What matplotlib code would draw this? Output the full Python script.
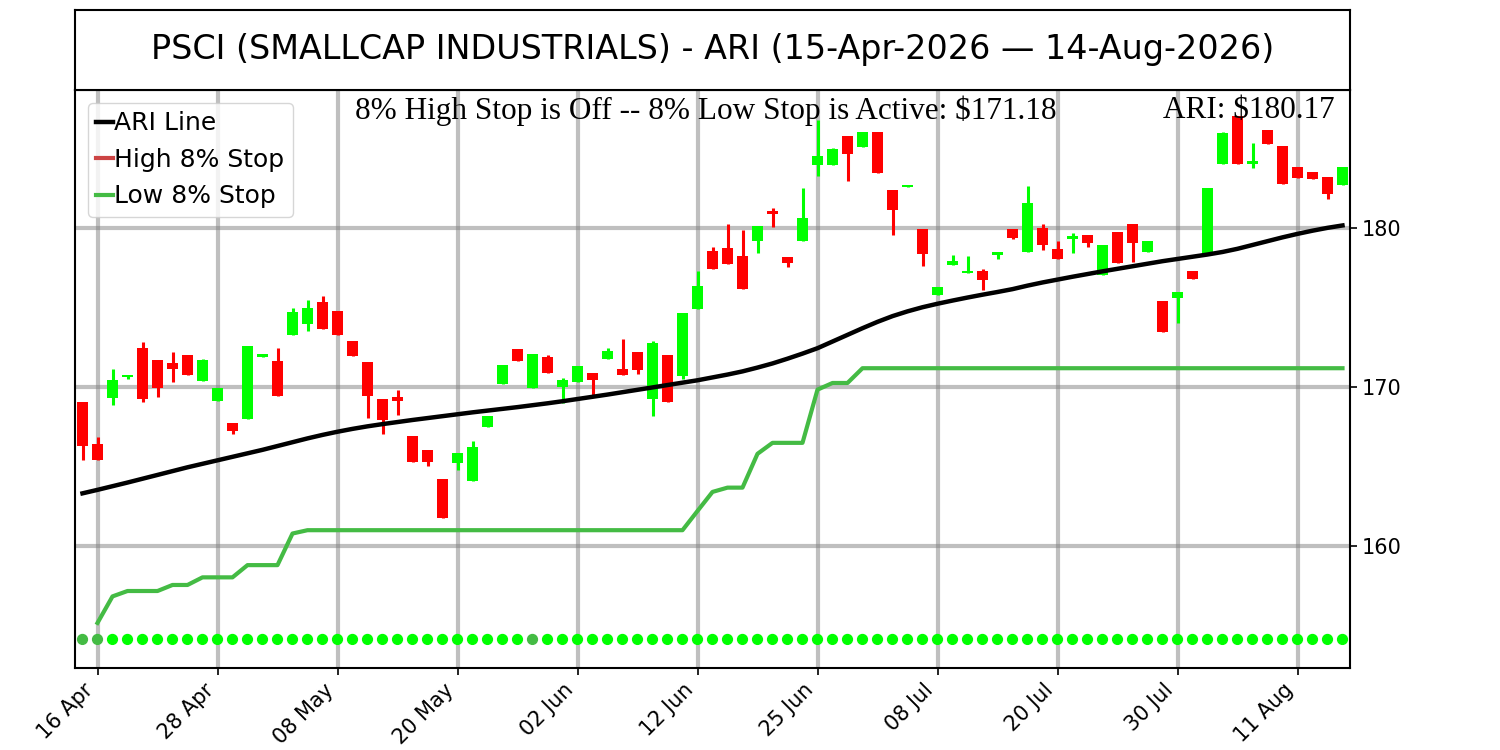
#!/usr/bin/env python3
"""PSCI candlestick chart with ARI line and 8% trailing stops."""

from __future__ import annotations

import matplotlib

matplotlib.use("Agg")
import matplotlib.pyplot as plt
import numpy as np


TITLE = "PSCI (SMALLCAP INDUSTRIALS) - ARI (15-Apr-2026 \u2014 14-Aug-2026)"
STOP_TEXT = r"8% High Stop is Off -- 8% Low Stop is Active: \$171.18"
ARI_TEXT = r"ARI: \$180.17"

TICK_LABELS = ["16 Apr", "28 Apr", "08 May", "20 May", "02 Jun", "12 Jun",
               "25 Jun", "08 Jul", "20 Jul", "30 Jul", "11 Aug"]
TICK_INDEX = [1, 9, 17, 25, 33, 41, 49, 57, 65, 73, 81]

OPEN = [
    169.06, 166.38, 169.29, 170.63, 172.47, 171.69, 171.50, 172.01, 170.35, 169.10,
    167.74, 167.97, 171.86, 171.65, 173.30, 173.99, 175.35, 174.79, 172.91, 171.59,
    169.27, 169.35, 166.94, 166.06, 164.18, 165.21, 164.08, 167.49, 170.17, 172.38,
    169.91, 171.90, 169.98, 170.31, 170.88, 171.78, 171.13, 172.22, 169.25, 172.01,
    170.67, 174.94, 178.56, 178.72, 178.24, 179.16, 181.07, 178.16, 179.16, 183.98,
    184.00, 185.78, 185.11, 186.07, 182.43, 182.61, 179.92, 175.81, 177.70, 177.16,
    177.28, 178.28, 179.92, 178.51, 180.04, 178.66, 179.29, 179.60, 177.05, 179.73,
    180.29, 178.51, 175.42, 175.59, 177.28, 178.45, 184.06, 187.07, 184.06, 186.19,
    185.19, 183.87, 183.52, 183.24, 182.72,
]
HIGH = [
    169.06, 166.82, 171.15, 170.77, 172.84, 171.69, 172.22, 172.01, 171.76, 169.94,
    167.74, 172.59, 172.07, 172.47, 174.98, 175.48, 175.73, 174.79, 172.91, 171.59,
    169.27, 169.83, 166.94, 166.06, 164.18, 165.81, 166.57, 168.14, 171.40, 172.38,
    172.09, 172.03, 170.56, 171.32, 170.88, 172.47, 173.03, 172.22, 172.91, 172.01,
    174.64, 177.30, 178.81, 180.25, 179.87, 180.15, 181.26, 178.16, 182.51, 186.82,
    185.05, 185.78, 186.07, 186.07, 182.43, 182.74, 179.92, 176.28, 178.30, 178.24,
    177.43, 178.47, 179.92, 182.64, 180.25, 179.19, 179.67, 179.60, 178.97, 179.73,
    180.29, 179.16, 175.42, 175.96, 177.28, 182.55, 186.04, 187.07, 185.38, 186.19,
    185.19, 183.87, 183.52, 183.24, 183.87,
]
LOW = [
    165.39, 165.39, 168.89, 170.50, 169.04, 169.35, 170.29, 170.73, 170.35, 169.10,
    167.01, 167.97, 171.86, 169.41, 173.30, 173.53, 173.68, 173.30, 171.92, 168.03,
    167.03, 168.22, 165.27, 165.02, 161.75, 164.77, 164.08, 167.49, 170.17, 171.63,
    169.91, 170.86, 168.97, 170.31, 169.41, 171.78, 170.73, 170.84, 168.16, 169.04,
    170.52, 174.94, 177.45, 177.76, 176.15, 178.45, 180.08, 177.57, 179.16, 183.29,
    184.00, 182.97, 185.11, 183.50, 179.56, 182.61, 177.64, 175.81, 177.66, 177.16,
    176.11, 178.03, 179.33, 178.51, 178.64, 178.03, 178.45, 178.79, 177.05, 177.82,
    177.89, 178.51, 173.45, 174.01, 176.78, 178.45, 184.06, 184.06, 183.81, 185.31,
    182.80, 183.18, 183.10, 181.84, 182.72,
]
CLOSE = [
    166.27, 165.39, 170.46, 170.77, 169.25, 169.92, 171.13, 170.73, 171.71, 169.94,
    167.22, 172.59, 172.07, 169.41, 174.71, 174.98, 173.68, 173.30, 171.92, 169.41,
    167.95, 169.12, 165.27, 165.27, 161.75, 165.81, 166.19, 168.14, 171.40, 171.63,
    172.09, 170.86, 170.46, 171.32, 170.42, 172.28, 170.77, 171.05, 172.78, 169.04,
    174.64, 176.36, 177.45, 177.76, 176.15, 180.15, 180.86, 177.78, 180.67, 184.56,
    185.00, 184.69, 186.07, 183.50, 181.17, 182.74, 178.37, 176.28, 177.95, 177.30,
    176.71, 178.47, 179.41, 181.61, 178.97, 178.03, 179.50, 179.04, 178.97, 177.82,
    179.08, 179.16, 173.45, 175.96, 176.78, 182.55, 186.00, 184.06, 184.21, 185.31,
    182.80, 183.18, 183.10, 182.16, 183.87,
]
ARI = [
    163.30, 163.52, 163.75, 163.98, 164.22, 164.46, 164.70, 164.94, 165.16, 165.38,
    165.60, 165.82, 166.04, 166.28, 166.52, 166.76, 166.98, 167.18, 167.36, 167.52,
    167.66, 167.79, 167.92, 168.04, 168.16, 168.28, 168.40, 168.51, 168.62, 168.73,
    168.85, 168.97, 169.10, 169.24, 169.38, 169.52, 169.67, 169.82, 169.97, 170.12,
    170.27, 170.42, 170.60, 170.78, 170.98, 171.22, 171.48, 171.78, 172.10, 172.44,
    172.86, 173.28, 173.70, 174.10, 174.46, 174.76, 175.02, 175.24, 175.44, 175.63,
    175.81, 175.98, 176.16, 176.38, 176.58, 176.76, 176.94, 177.11, 177.28, 177.44,
    177.60, 177.76, 177.92, 178.06, 178.20, 178.34, 178.50, 178.70, 178.94, 179.18,
    179.42, 179.64, 179.84, 180.02, 180.17,
]
LOW_STOP = [
    np.nan, 155.14, 156.81, 157.15, 157.15, 157.15, 157.53, 157.53, 158.01, 158.01,
    158.01, 158.78, 158.78, 158.78, 160.77, 160.98, 160.98, 160.98, 160.98, 160.98,
    160.98, 160.98, 160.98, 160.98, 160.98, 160.98, 160.98, 160.98, 160.98, 160.98,
    160.98, 160.98, 160.98, 160.98, 160.98, 160.98, 160.98, 160.98, 160.98, 160.98,
    160.98, 162.19, 163.39, 163.66, 163.66, 165.79, 166.48, 166.48, 166.48, 169.83,
    170.25, 170.25, 171.18, 171.18, 171.18, 171.18, 171.18, 171.18, 171.18, 171.18,
    171.18, 171.18, 171.18, 171.18, 171.18, 171.18, 171.18, 171.18, 171.18, 171.18,
    171.18, 171.18, 171.18, 171.18, 171.18, 171.18, 171.18, 171.18, 171.18, 171.18,
    171.18, 171.18, 171.18, 171.18, 171.18,
]
SIGNAL_LEVEL = 154.1
WEAK_SIGNAL_DAYS = [0, 1, 30]

UP = "#00ff00"
DOWN = "#ff0000"
STOP_GREEN = "#44bb44"
STOP_RED = "#cc4444"


def draw_candles(ax: plt.Axes) -> None:
    o, h, l, c = (np.asarray(a) for a in (OPEN, HIGH, LOW, CLOSE))
    x = np.arange(len(c))
    colors = np.where(c >= o, UP, DOWN)
    ax.vlines(x, l, h, colors=colors, linewidth=2.2, zorder=3)
    bottom = np.minimum(o, c)
    height = np.maximum(np.abs(c - o), 0.12)
    ax.bar(x, height, bottom=bottom, width=0.7, color=colors, zorder=3)


def main() -> None:
    fig = plt.figure(figsize=(15, 7.5), dpi=100)
    ax = fig.add_axes([0.05, 0.1093, 0.85, 0.7707])
    tax = fig.add_axes([0.05, 0.88, 0.85, 0.1067])

    tax.set_xticks([])
    tax.set_yticks([])
    for spine in tax.spines.values():
        spine.set_linewidth(1.5)
    tax.text(0.5, 0.5, TITLE, ha="center", va="center", fontsize=24,
             transform=tax.transAxes)

    ax.set_axisbelow(True)
    ax.grid(True, color="gray", alpha=0.5, linewidth=3)
    draw_candles(ax)

    x = np.arange(len(ARI))
    ax.plot(x, ARI, color="black", linewidth=3.2, zorder=4, label="ARI Line")
    ax.plot([], [], color=STOP_RED, linewidth=3, label="High 8% Stop")
    ax.plot(x, LOW_STOP, color=STOP_GREEN, linewidth=3, zorder=4, label="Low 8% Stop")

    dot_colors = [STOP_GREEN if i in WEAK_SIGNAL_DAYS else UP for i in x]
    ax.scatter(x, np.full(len(x), SIGNAL_LEVEL), c=dot_colors, s=50, zorder=4)

    ax.text(0.495, 0.99, STOP_TEXT, transform=ax.transAxes, ha="center", va="top",
            fontsize=22.5, family="Liberation Serif")
    ax.text(0.988, 0.99, ARI_TEXT, transform=ax.transAxes, ha="right", va="top",
            fontsize=22.5, family="Liberation Serif")

    ax.set_xlim(-0.5, len(x) - 0.5)
    ax.set_ylim(152.3, 188.7)
    ax.set_yticks([160, 170, 180])
    ax.yaxis.tick_right()
    ax.set_xticks(TICK_INDEX)
    ax.set_xticklabels(TICK_LABELS, rotation=45, ha="right")
    ax.tick_params(labelsize=15, length=5, width=1.2)
    for spine in ax.spines.values():
        spine.set_linewidth(1.5)

    ax.legend(loc="upper left", fontsize=18, handlelength=0.65, handletextpad=0.05,
              labelspacing=0.5, borderpad=0.35, borderaxespad=0.5)

    fig.savefig("out.png", dpi=100, facecolor="white")
    plt.close(fig)


if __name__ == "__main__":
    main()
